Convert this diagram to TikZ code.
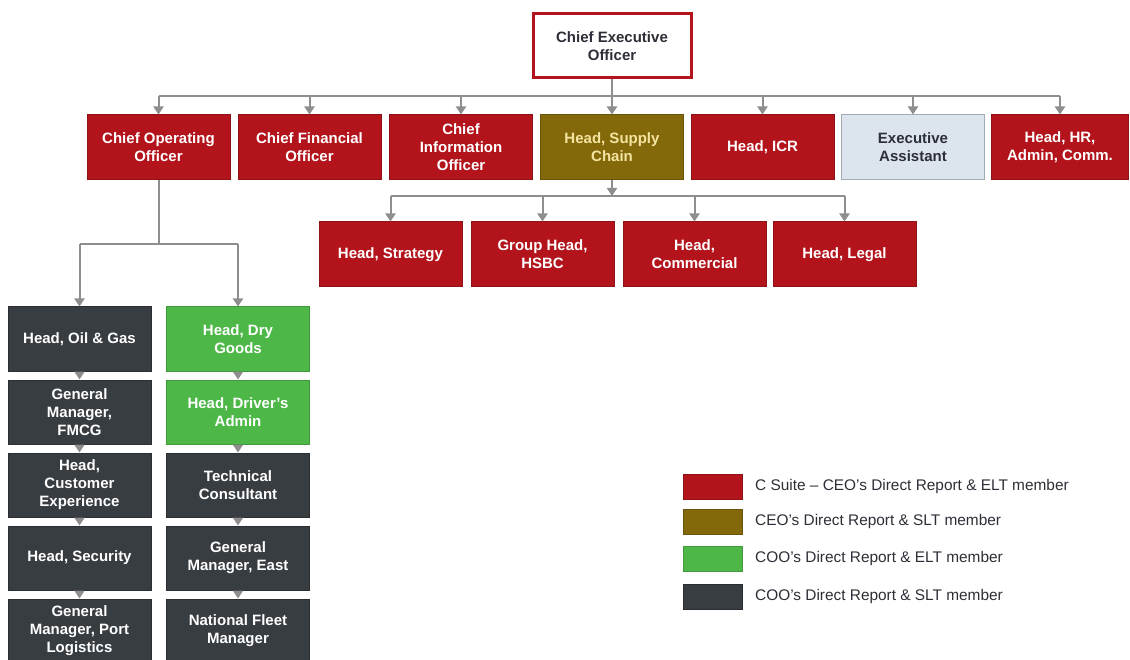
\documentclass[tikz,border=0pt]{standalone}
\usepackage{fontspec}
\setmainfont{Liberation Sans}
\usetikzlibrary{arrows.meta}
\definecolor{cred}{HTML}{B3141C}
\definecolor{credd}{HTML}{8E1218}
\definecolor{colive}{HTML}{84690A}
\definecolor{coliveb}{HTML}{6A5408}
\definecolor{cgreen}{HTML}{4DB848}
\definecolor{cgreenb}{HTML}{3E9A3A}
\definecolor{cdark}{HTML}{383D42}
\definecolor{cdarkb}{HTML}{2A2E32}
\definecolor{cea}{HTML}{DCE5EE}
\definecolor{ceab}{HTML}{A3ABB4}
\definecolor{cline}{HTML}{8E8E8E}
\definecolor{ctxt}{HTML}{2E2E38}
\definecolor{cyel}{HTML}{F4E4A2}
\tikzset{
  box/.style={draw, line width=1pt, minimum width=143pt, minimum height=65pt, inner sep=0pt,
    align=center, text=white, font=\bfseries\fontsize{15}{18}\selectfont},
  redbox/.style={box, fill=cred, draw=credd},
  olivebox/.style={box, fill=colive, draw=coliveb, text=cyel},
  greenbox/.style={box, fill=cgreen, draw=cgreenb, minimum height=64pt},
  darkbox/.style={box, fill=cdark, draw=cdarkb, minimum height=64pt},
  eabox/.style={box, fill=cea, draw=ceab, text=ctxt},
  ceobox/.style={box, fill=white, draw=cred, line width=3pt, text=ctxt, minimum width=158pt, minimum height=64pt},
  conn/.style={draw=cline, line width=2pt},
  arr/.style={conn, -{Triangle[width=10pt,length=8pt]}, color=cline},
  swatch/.style={draw, line width=1pt, minimum width=59pt, minimum height=25pt, inner sep=0pt},
  legtxt/.style={anchor=west, inner sep=0pt, text=ctxt, font=\fontsize{15.4}{18}\selectfont}
}
\begin{document}
\begin{tikzpicture}[x=1pt,y=-1pt]
\useasboundingbox[fill=white] (0,0) rectangle (1130,660);
% CEO
\node[ceobox] (ceo) at (612,46) {Chief Executive\\Officer};
% level 1
\node[redbox] (coo) at (158.5,147.5) {Chief Operating\\Officer};
\node[redbox] (cfo) at (309.5,147.5) {Chief Financial\\Officer};
\node[redbox] (cio) at (461,147.5) {Chief\\Information\\Officer};
\node[olivebox] (sc) at (612,147.5) {Head, Supply\\Chain};
\node[redbox] (icr) at (762.5,147.5) {Head, ICR};
\node[eabox] (ea) at (913,147.5) {Executive\\Assistant};
\node[redbox, minimum width=137pt] (hr) at (1060,147.5) {Head, HR,\\Admin, Comm.};
% level 2
\node[redbox] (strat) at (390.5,254.5) {Head, Strategy};
\node[redbox] (hsbc) at (542.5,254.5) {Group Head,\\HSBC};
\node[redbox] (comm) at (694.5,254.5) {Head,\\Commercial};
\node[redbox] (legal) at (844.5,254.5) {Head, Legal};
% COO columns
\node[darkbox] (og) at (79.5,339) {Head, Oil \& Gas};
\node[darkbox] (fmcg) at (79.5,412) {General\\Manager,\\FMCG};
\node[darkbox] (cx) at (79.5,485) {Head,\\Customer\\Experience};
\node[darkbox] (sec) at (79.5,558) {Head, Security};
\node[darkbox] (port) at (79.5,631) {General\\Manager, Port\\Logistics};
\node[greenbox] (dry) at (238,339) {Head, Dry\\Goods};
\node[greenbox] (drv) at (238,412) {Head, Driver's\\Admin};
\node[darkbox] (tech) at (238,485) {Technical\\Consultant};
\node[darkbox] (east) at (238,558) {General\\Manager, East};
\node[darkbox] (fleet) at (238,631) {National Fleet\\Manager};
% bars
\coordinate (bar1) at (612,96);
\coordinate (bar2) at (612,196);
\coordinate (bar3) at (159,244);
% CEO connectors
\draw[conn] (coo.north |- bar1) -- (hr.north |- bar1);
\draw[arr] (ceo.south) -- (sc.north);
\foreach \n in {coo,cfo,cio,icr,ea,hr}{
  \draw[arr] (\n.north |- bar1) -- (\n.north);
}
% supply chain connectors
\draw[conn] (strat.north |- bar2) -- (legal.north |- bar2);
\draw[arr] (sc.south) -- (sc.south |- bar2);
\foreach \n in {strat,hsbc,comm,legal}{
  \draw[arr] (\n.north |- bar2) -- (\n.north);
}
% COO connectors
\draw[conn] (coo.south) -- (coo.south |- bar3);
\draw[conn] (og.north |- bar3) -- (dry.north |- bar3);
\draw[arr] (og.north |- bar3) -- (og.north);
\draw[arr] (dry.north |- bar3) -- (dry.north);
\draw[arr] (og.south) -- (fmcg.north);
\draw[arr] (fmcg.south) -- (cx.north);
\draw[arr] (cx.south) -- (sec.north);
\draw[arr] (sec.south) -- (port.north);
\draw[arr] (dry.south) -- (drv.north);
\draw[arr] (drv.south) -- (tech.north);
\draw[arr] (tech.south) -- (east.north);
\draw[arr] (east.south) -- (fleet.north);
% legend
\node[swatch, fill=cred, draw=credd] (l1) at (712.5,486.5) {};
\node[swatch, fill=colive, draw=coliveb] (l2) at (712.5,521.5) {};
\node[swatch, fill=cgreen, draw=cgreenb] (l3) at (712.5,559) {};
\node[swatch, fill=cdark, draw=cdarkb] (l4) at (712.5,596.5) {};
\node[legtxt] (t1) at (755,486.5) {C Suite – CEO's Direct Report \& ELT member};
\node[legtxt] (t2) at (755,521.5) {CEO's Direct Report \& SLT member};
\node[legtxt] (t3) at (755,559) {COO's Direct Report \& ELT member};
\node[legtxt] (t4) at (755,596.5) {COO's Direct Report \& SLT member};
\end{tikzpicture}
\end{document}
